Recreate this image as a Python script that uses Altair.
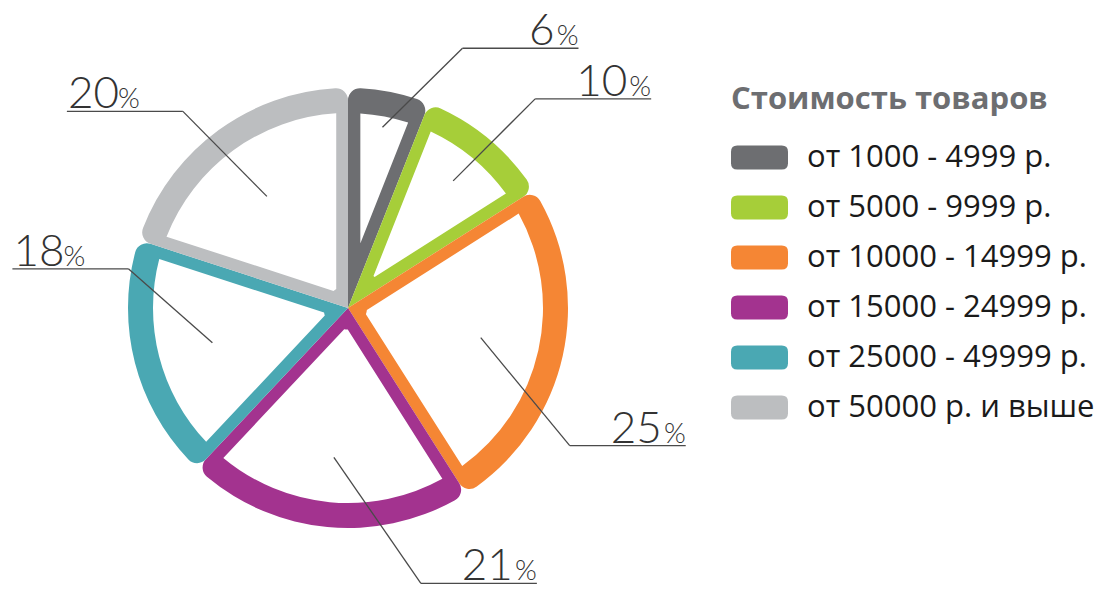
import math
import altair as alt
import pandas as pd

# ---------------- data ----------------
categories = [
    "от 1000 - 4999 р.",
    "от 5000 - 9999 р.",
    "от 10000 - 14999 р.",
    "от 15000 - 24999 р.",
    "от 25000 - 49999 р.",
    "от 50000 р. и выше",
]
shares = [6, 10, 25, 21, 18, 20]
colors = ["#6d6e71", "#a6ce39", "#f58634", "#a3338f", "#4aa8b3", "#bcbec0"]
legend_title = "Стоимость товаров"

# ---------------- layout (pixels, chart coordinates) ----------------
CX, CY = 340, 300          # pie centre
R_OUT, R_WHITE = 220, 195  # coloured outer radius / white inner wedge radius
BAND = 12.0                # half width of the coloured radial borders
PAD = 0.12
leader_r = [184, 165, 136, 150, 140, 138]
leader_d = [(80, -79), (82, -82), (89, 108), (87, 126), (-84, -74), (-84, -85)]
H_LEN = 116
PCT_W = 23
DIGIT_W = 24.5

total = sum(shares)
pie_rows, seg_rows, lab_rows = [], [], []
cum = 0
for i, (c, v) in enumerate(zip(categories, shares)):
    a0 = cum / total * 2 * math.pi
    cum += v
    a1 = cum / total * 2 * math.pi
    mid = (a0 + a1) / 2
    half = (a1 - a0) / 2
    r_in = BAND / math.sin(half) + 2
    pie_rows.append({"cat": c, "share": v, "idx": i, "r_out": R_WHITE, "r_in": r_in})

    sx = CX + leader_r[i] * math.sin(mid)
    sy = CY - leader_r[i] * math.cos(mid)
    dx, dy = leader_d[i]
    ex, ey = sx + dx, sy + dy
    side = 1 if dx > 0 else -1
    hx = ex + side * H_LEN
    seg_rows.append({"x": sx, "y": sy, "x2": ex, "y2": ey})
    seg_rows.append({"x": ex, "y": ey, "x2": hx, "y2": ey})
    num = str(v)
    if side > 0:
        lab_rows.append({"side": "r", "num": num, "pct": "%", "xn": hx - 1 - PCT_W,
                         "xp": hx, "y": ey - 3})
    else:
        lab_rows.append({"side": "l", "num": num, "pct": "%", "xn": hx + 1,
                         "xp": hx + 2 + len(num) * DIGIT_W, "y": ey - 3})

pie_df = pd.DataFrame(pie_rows)
seg_df = pd.DataFrame(seg_rows)
lab_df = pd.DataFrame(lab_rows)

SYMBOL = ("M-0.78,-0.42 L0.78,-0.42 Q1,-0.42 1,-0.2 L1,0.2 Q1,0.42 0.78,0.42 "
          "L-0.78,0.42 Q-1,0.42 -1,0.2 L-1,-0.2 Q-1,-0.42 -0.78,-0.42 Z")

theta = alt.Theta("share:Q", stack=True)
order = alt.Order("idx:Q")

coloured = alt.Chart(pie_df).mark_arc(outerRadius=R_OUT, cornerRadius=12).encode(
    theta=theta,
    order=order,
    x=alt.value(CX),
    y=alt.value(CY),
    color=alt.Color(
        "cat:N",
        scale=alt.Scale(domain=categories, range=colors),
        sort=categories,
        legend=alt.Legend(
            orient="none", legendX=723, legendY=77,
            title=legend_title, titleFont="Open Sans", titleFontSize=31,
            titleFontWeight="bold", titleColor="#6d6e71", titlePadding=13,
            titleLimit=600,
            labelFont="Open Sans", labelFontSize=31, labelColor="#1a1a1a",
            labelLimit=500, labelOffset=19,
            symbolType=SYMBOL, symbolSize=3249, symbolStrokeWidth=0,
            symbolOpacity=1, rowPadding=6,
        ),
    ),
)

white = alt.Chart(pie_df).mark_arc(fill="white", padAngle=PAD).encode(
    theta=theta,
    order=order,
    x=alt.value(CX),
    y=alt.value(CY),
    radius=alt.Radius("r_out:Q", scale=None),
    radius2=alt.Radius2("r_in:Q"),
)

leaders = alt.Chart(seg_df).mark_rule(color="#4a4a4a", strokeWidth=1.3).encode(
    x=alt.X("x:Q", scale=None, axis=None),
    y=alt.Y("y:Q", scale=None, axis=None),
    x2="x2:Q",
    y2="y2:Q",
)

txt = dict(font="Lato", fontWeight=300, color="#333333", baseline="alphabetic")
right = lab_df[lab_df.side == "r"]
left = lab_df[lab_df.side == "l"]

num_r = alt.Chart(right).mark_text(align="right", fontSize=44, **txt).encode(
    x=alt.X("xn:Q", scale=None, axis=None), y=alt.Y("y:Q", scale=None, axis=None), text="num:N")
pct_r = alt.Chart(right).mark_text(align="right", fontSize=28, **txt).encode(
    x=alt.X("xp:Q", scale=None, axis=None), y=alt.Y("y:Q", scale=None, axis=None), text="pct:N")
num_l = alt.Chart(left).mark_text(align="left", fontSize=44, **txt).encode(
    x=alt.X("xn:Q", scale=None, axis=None), y=alt.Y("y:Q", scale=None, axis=None), text="num:N")
pct_l = alt.Chart(left).mark_text(align="left", fontSize=28, **txt).encode(
    x=alt.X("xp:Q", scale=None, axis=None), y=alt.Y("y:Q", scale=None, axis=None), text="pct:N")

chart = alt.layer(coloured, white, leaders, num_r, pct_r, num_l, pct_l).properties(
    width=1103, height=582, padding=0,
    autosize=alt.AutoSizeParams(type="none"),
).configure(background="white").configure_view(stroke=None)

chart.save("out.html", embed_options={"renderer": "svg", "actions": False})
